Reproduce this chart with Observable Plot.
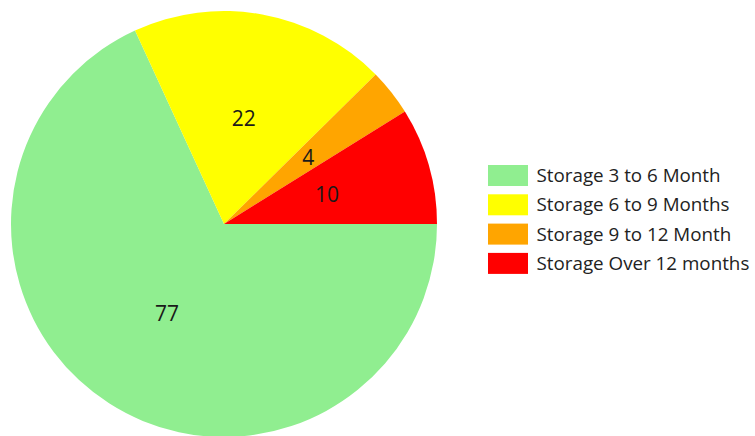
<!DOCTYPE html>
<html>
<head>
<meta charset="utf-8">
<script src="https://cdn.jsdelivr.net/npm/d3@7"></script>
<script src="https://cdn.jsdelivr.net/npm/@observablehq/plot@0.6"></script>
<style>
  html, body { margin: 0; padding: 0; background: #fff; }
  svg { display: block; }
</style>
</head>
<body>
<div id="chart"></div>
<script>
const categories = ["Storage 3 to 6 Month", "Storage 6 to 9 Months", "Storage 9 to 12 Month", "Storage Over 12 months"];
const values = [77, 22, 4, 10];
const colors = ["#90ee90", "#ffff00", "#ffa500", "#ff0000"];

const W = 755, H = 436;
const cx = 224, cy = 224, R = 213;
const font = "'Open Sans', 'Noto Sans', sans-serif";

const rows = categories.map((c, i) => ({category: c, value: values[i], i}));
const pie = d3.pie().sort(null).value(d => d.value)
  .startAngle(Math.PI / 2).endAngle(Math.PI / 2 + 2 * Math.PI);
const arcs = pie(rows);
const labelArc = d3.arc().innerRadius(0).outerRadius(R);
const labels = arcs.map(a => {
  const [dx, dy] = labelArc.centroid(a);
  return {x: cx + dx, y: cy + dy, value: a.data.value};
});

const pieMark = (index, scales, vals, dims, context) => {
  const g = d3.create("svg:g");
  const arc = d3.arc().innerRadius(0).outerRadius(R);
  const px = scales.x(cx), py = scales.y(cy);
  g.attr("transform", `translate(${px},${py})`)
    .selectAll("path").data(arcs).join("path")
    .attr("d", arc)
    .attr("fill", d => scales.color(d.data.category));
  return g.node();
};

const legendX = 488, legendY = 165, rowH = 29.3;
const legend = rows.map(r => ({...r, y: legendY + r.i * rowH}));

const chart = Plot.plot({
  width: W, height: H, margin: 0,
  style: {fontFamily: font, background: "#fff"},
  x: {domain: [0, W], range: [0, W], axis: null},
  y: {domain: [0, H], range: [0, H], axis: null},
  color: {domain: categories, range: colors},
  marks: [
    pieMark,
    Plot.text(labels, {x: "x", y: "y", text: d => String(d.value), fontSize: 21, fill: "#1a1a1a", fontFamily: font}),
    Plot.rect(legend, {x1: legendX, x2: legendX + 40, y1: "y", y2: d => d.y + 21, fill: "category"}),
    Plot.text(legend, {x: legendX + 48, y: d => d.y + 10.5, text: "category", textAnchor: "start", fontSize: 18.8, fill: "#222", fontFamily: font})
  ]
});
document.getElementById("chart").appendChild(chart);
</script>
</body>
</html>
